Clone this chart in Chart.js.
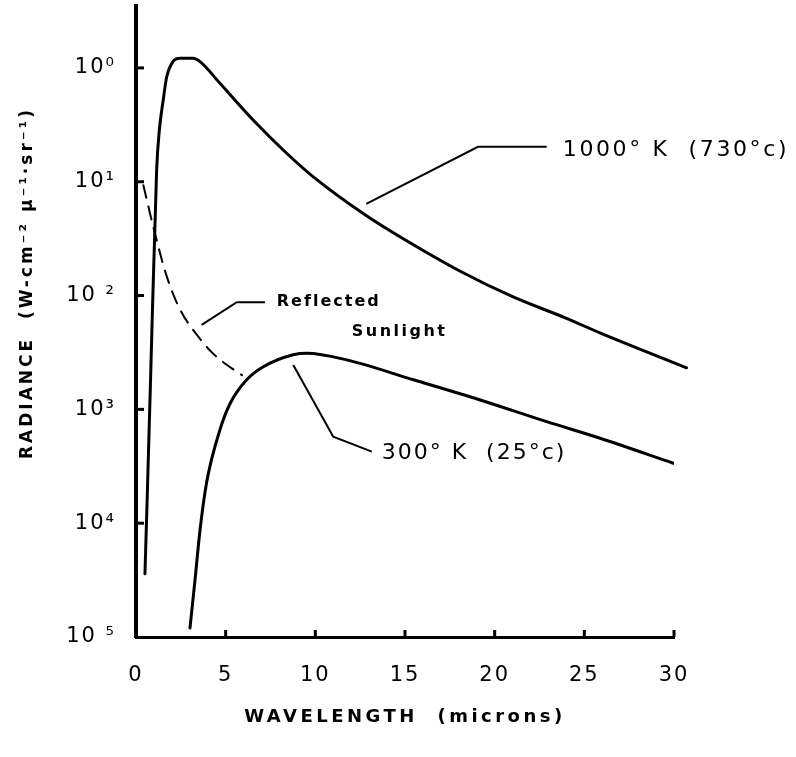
<!DOCTYPE html>
<html>
<head>
<meta charset="utf-8">
<script src="https://cdn.jsdelivr.net/npm/chart.js@4.4.1/dist/chart.umd.min.js"></script>
<style>
  html, body { margin: 0; padding: 0; background: #fff; }
  canvas { display: block; }
</style>
</head>
<body>
<canvas id="chart" width="796" height="757"></canvas>
<script>
// --- values (wavelength in microns, radiance W cm-2 um-1 sr-1) ---
const waveHot = [0.50, 0.60, 0.82, 1.15, 1.30, 1.52, 1.71, 2.06, 2.45, 3.18, 3.57, 4.68, 6.53, 8.40, 9.87, 12.77, 15, 18, 21, 24, 25.9, 30.7];
const radHot  = [3.6e-5, 1.23e-4, 2.04e-3, 0.126, 0.282, 0.525, 0.832, 1.135, 1.216, 1.216, 1.135, 0.733, 0.349, 0.178, 0.111, 0.0513, 0.0309, 0.0166, 0.00977, 0.00631, 0.00468, 0.00232];

const waveCool = [3.01, 3.29, 3.57, 3.94, 4.68, 5.24, 6.17, 7.10, 8.77, 9.52, 11.75, 15.47, 19.19, 22.9, 25.88, 29.97];
const radCool  = [1.2e-5, 3.16e-5, 8.71e-5, 2.29e-4, 6.61e-4, 1.12e-3, 1.82e-3, 2.37e-3, 3.02e-3, 3.11e-3, 2.72e-3, 1.82e-3, 1.21e-3, 7.8e-4, 5.57e-4, 3.36e-4];

const waveSun = [0.41, 0.97, 1.71, 2.45, 3.57, 4.30, 5.62, 5.91];
const radSun  = [0.0933, 0.0398, 0.0148, 0.00759, 0.00417, 0.00309, 0.00214, 0.0020];

const xTicks = [0, 5, 10, 15, 20, 25, 30];
const yTickValues = [1, 1e-1, 1e-2, 1e-3, 1e-4, 1e-5];
const yTickLabels = ['10⁰', '10¹', '10 ²', '10³', '10⁴', '10 ⁵'];

// callouts, anchored in data units (wavelength, radiance)
const hotLeader  = [[12.84, 0.0638], [19.07, 0.203], [22.9, 0.203]];
const sunLeader  = [[3.66, 0.00552], [5.62, 0.00873], [7.19, 0.00873]];
const coolLeader = [[8.77, 0.00245], [11.0, 0.000575], [13.15, 0.000425]];
const labels = [
  { text: '1000° K  (730°c)', at: [23.8, 0.19], font: '22px "DejaVu Sans"', spacing: '2.6px' },
  { text: 'Reflected', at: [7.85, 0.00873], font: 'bold 16px "DejaVu Sans"', spacing: '2px' },
  { text: 'Sunlight', at: [12.03, 0.00482], font: 'bold 16px "DejaVu Sans"', spacing: '2.5px' },
  { text: '300° K  (25°c)', at: [13.7, 0.00041], font: '22px "DejaVu Sans"', spacing: '2px' }
];
const yTitle = 'RADIANCE  (W-cm⁻² μ⁻¹·sr⁻¹)';
const xTitle = 'WAVELENGTH  (microns)';

const toPts = (xs, ys) => xs.map((v, i) => ({ x: v, y: ys[i] }));

// inward ticks, leader lines, callout text, axis titles
const extras = {
  id: 'extras',
  beforeDraw(chart) { chart.ctx.letterSpacing = '2px'; },
  afterDraw(chart) {
    const { ctx, scales: { x, y }, chartArea } = chart;
    ctx.save();
    ctx.strokeStyle = '#000';
    ctx.fillStyle = '#000';
    ctx.lineWidth = 3;
    yTickValues.slice(0, -1).forEach(v => {
      const py = y.getPixelForValue(v);
      ctx.beginPath(); ctx.moveTo(chartArea.left, py); ctx.lineTo(chartArea.left + 8, py); ctx.stroke();
    });
    xTicks.slice(1).forEach(v => {
      const px = x.getPixelForValue(v);
      ctx.beginPath(); ctx.moveTo(px, chartArea.bottom); ctx.lineTo(px, chartArea.bottom - 7); ctx.stroke();
    });

    ctx.lineWidth = 2;
    [hotLeader, sunLeader, coolLeader].forEach(pts => {
      ctx.beginPath();
      pts.forEach(([a, b], i) => {
        const px = x.getPixelForValue(a), py = y.getPixelForValue(b);
        i ? ctx.lineTo(px, py) : ctx.moveTo(px, py);
      });
      ctx.stroke();
    });

    ctx.textAlign = 'left';
    ctx.textBaseline = 'middle';
    labels.forEach(l => {
      ctx.font = l.font;
      ctx.letterSpacing = l.spacing;
      ctx.fillText(l.text, x.getPixelForValue(l.at[0]), y.getPixelForValue(l.at[1]));
    });

    // x title, centred under the axis
    ctx.font = 'bold 18px "DejaVu Sans"';
    ctx.letterSpacing = '3.5px';
    ctx.textAlign = 'center';
    ctx.fillText(xTitle, (chartArea.left + chartArea.right) / 2, 717);

    // rotated y title
    ctx.font = 'bold 17px "DejaVu Sans"';
    ctx.letterSpacing = '3px';
    ctx.translate(28, 283);
    ctx.rotate(-Math.PI / 2);
    ctx.fillText(yTitle, 0, 0);
    ctx.restore();
  }
};

new Chart(document.getElementById('chart'), {
  type: 'line',
  data: {
    datasets: [
      { label: '1000 K', data: toPts(waveHot, radHot), borderColor: '#000', borderWidth: 3, clip: false },
      { label: '300 K', data: toPts(waveCool, radCool), borderColor: '#000', borderWidth: 3 },
      { label: 'Reflected Sunlight', data: toPts(waveSun, radSun), borderColor: '#000', borderWidth: 2, borderDash: [13, 9] }
    ]
  },
  options: {
    responsive: false,
    animation: false,
    layout: { padding: { left: 0, top: 6, right: 122, bottom: 0 } },
    elements: {
      point: { radius: 0 },
      line: { cubicInterpolationMode: 'monotone', fill: false, borderCapStyle: 'round' }
    },
    plugins: { legend: { display: false }, tooltip: { enabled: false } },
    scales: {
      x: {
        type: 'linear', min: 0, max: 30,
        afterBuildTicks: s => { s.ticks = xTicks.map(v => ({ value: v })); },
        afterFit: s => { s.height = 120; s.paddingLeft = 0; s.paddingRight = 0; },
        grid: { display: false, drawTicks: false },
        border: { display: true, width: 3, color: '#000' },
        ticks: { color: '#000', padding: 26, autoSkip: false, maxRotation: 0, font: { family: 'DejaVu Sans', size: 21 } }
      },
      y: {
        type: 'logarithmic', min: 1e-5, max: 3.5,
        afterBuildTicks: s => { s.ticks = yTickValues.map(v => ({ value: v })); },
        afterFit: s => { s.width = 136; s.paddingTop = 0; s.paddingBottom = 0; },
        grid: { display: false, drawTicks: false },
        border: { display: true, width: 4, color: '#000' },
        ticks: {
          color: '#000', padding: 20, autoSkip: false,
          font: { family: 'DejaVu Sans', size: 21 },
          callback: v => yTickLabels[yTickValues.indexOf(v)]
        }
      }
    }
  },
  plugins: [extras]
});
</script>
</body>
</html>
